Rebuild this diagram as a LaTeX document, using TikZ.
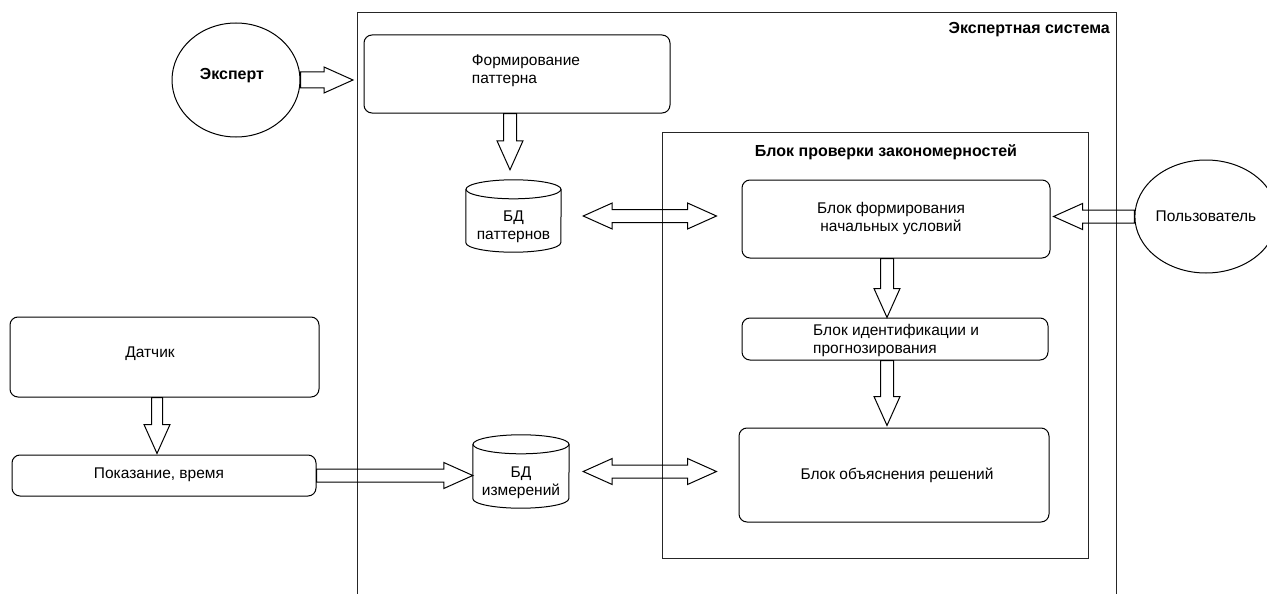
\documentclass[tikz,border=0pt]{standalone}
\usepackage{fontspec}
\setmainfont{Liberation Sans}
\usetikzlibrary{calc,shapes.geometric}
\def\fw{6.5}\def\fh{13}\def\fl{29}
\tikzset{
  base/.style={font=\fontsize{15.5}{18}\selectfont, inner sep=0pt},
  box/.style={base, draw, rounded corners=8pt, line width=1pt},
  oval/.style={base, draw, ellipse, line width=1pt},
  txt/.style={base, align=center},
  ltxt/.style={base, align=left},
  btxt/.style={base, font=\fontsize{16}{19}\selectfont\bfseries},
  frame/.style={line width=1pt, draw=black!85},
  fwd/.code={\def\fw{#1}},
  flex/.style={line width=1pt, line join=miter, to path={
    let \p1=(\tikztostart), \p2=(\tikztotarget),
        \n1={veclen(\x2-\x1,\y2-\y1)},
        \n2={(\x2-\x1)/\n1}, \n3={(\y2-\y1)/\n1}
    in ({\x1-\n3*\fw},{\y1+\n2*\fw})
    -- ({\x2-\n2*\fl-\n3*\fw},{\y2-\n3*\fl+\n2*\fw})
    -- ({\x2-\n2*\fl-\n3*\fh},{\y2-\n3*\fl+\n2*\fh})
    -- (\x2,\y2)
    -- ({\x2-\n2*\fl+\n3*\fh},{\y2-\n3*\fl-\n2*\fh})
    -- ({\x2-\n2*\fl+\n3*\fw},{\y2-\n3*\fl-\n2*\fw})
    -- ({\x1+\n3*\fw},{\y1-\n2*\fw}) -- cycle}},
  flexd/.style={line width=1pt, line join=miter, to path={
    let \p1=(\tikztostart), \p2=(\tikztotarget),
        \n1={veclen(\x2-\x1,\y2-\y1)},
        \n2={(\x2-\x1)/\n1}, \n3={(\y2-\y1)/\n1}
    in ({\x1+\n2*\fl-\n3*\fw},{\y1+\n3*\fl+\n2*\fw})
    -- ({\x2-\n2*\fl-\n3*\fw},{\y2-\n3*\fl+\n2*\fw})
    -- ({\x2-\n2*\fl-\n3*\fh},{\y2-\n3*\fl+\n2*\fh})
    -- (\x2,\y2)
    -- ({\x2-\n2*\fl+\n3*\fh},{\y2-\n3*\fl-\n2*\fh})
    -- ({\x2-\n2*\fl+\n3*\fw},{\y2-\n3*\fl-\n2*\fw})
    -- ({\x1+\n2*\fl+\n3*\fw},{\y1+\n3*\fl-\n2*\fw})
    -- ({\x1+\n2*\fl+\n3*\fh},{\y1+\n3*\fl-\n2*\fh})
    -- (\x1,\y1)
    -- ({\x1+\n2*\fl-\n3*\fh},{\y1+\n3*\fl+\n2*\fh}) -- cycle}}
}
\newcommand\drawcyl[3]{%
  \draw[line width=1pt] ($(#1.north west)+(0,-#3)$) -- ($(#1.south west)+(0,#3)$)
    arc[start angle=180,end angle=360,x radius=#2,y radius=#3]
    -- ($(#1.north east)+(0,-#3)$);
  \draw[line width=1pt] ($(#1.north)+(0,-#3)$) ellipse[x radius=#2,y radius=#3];
}
\begin{document}
\begin{tikzpicture}[x=1pt,y=1pt]
\useasboundingbox (0,0) rectangle (1267,-594);
\fill[white] (0,0) rectangle (1267,-594);

% containers
\draw[frame] (357,-594) -- (357,-13) -- (1116,-13) -- (1116,-594);
\node[btxt, anchor=east] (estitle) at (1110,-30) {Экспертная система};
\draw[frame] (662,-132) rectangle (1088,-558);
\node[btxt] (bptitle) at (886,-152) {Блок проверки закономерностей};

% nodes
\node[oval, minimum width=128, minimum height=114] (expert) at (236,-80) {};
\node[btxt] (expertt) at (232,-76) {Эксперт};
\node[box, minimum width=306, minimum height=78] (form) at (517,-74) {};
\node[ltxt] (formt) at (526,-71) {Формирование\\паттерна};

\node[minimum width=95, minimum height=72, inner sep=0pt] (db1) at (513.5,-216) {};
\drawcyl{db1}{47.5}{9.5}
\node[txt] (db1t) at (513.5,-227) {БД\\паттернов};

\node[box, minimum width=308, minimum height=78] (bf) at (896,-219) {};
\node[txt] (bft) at (891,-218) {Блок формирования\\начальных условий};

\node[box, minimum width=306, minimum height=42] (bi) at (895,-339) {};
\node[ltxt, anchor=west] (bit) at (813,-340) {Блок идентификации и\\прогнозирования};

\node[box, minimum width=310, minimum height=94] (bo) at (894,-475) {};
\node[txt] (bot) at (897,-475) {Блок объяснения решений};

\node[oval, minimum width=118, minimum height=113] (user) at (1206,-216.5) {Пользователь};

\node[box, minimum width=309, minimum height=80] (dat) at (164.5,-357) {};
\node[txt] (datt) at (150,-354) {Датчик};

\node[box, minimum width=304, minimum height=41] (pok) at (164,-475.5) {};
\node[txt] (pokt) at (159,-475) {Показание, время};

\node[minimum width=96, minimum height=73, inner sep=0pt] (db2) at (521,-471.5) {};
\drawcyl{db2}{48}{9.5}
\node[txt] (db2t) at (521,-483) {БД\\измерений};

% connectors
\coordinate (esin) at (353,-80);
\draw[flex, fwd=8] (expert.east) to (esin);
\draw[flex] ([xshift=-7]form.south) to ([xshift=-3.5,yshift=10]db1.north);
\draw[flexd] ([xshift=22]db1.east) to ([xshift=-25]bf.west |- db1.east);
\draw[flex] (user.west) to ([xshift=3]bf.east |- user.west);
\draw[flex] ([xshift=-9]bf.south) to ([xshift=-8]bi.north);
\draw[flex] ([xshift=-8]bi.south) to ([xshift=-7,yshift=2]bo.north);
\draw[flex, fwd=5.5] ([xshift=-7.5]dat.south) to ([xshift=-7,yshift=1]pok.north);
\draw[flex] (pok.east) to (db2.west |- pok.east);
\draw[flexd] ([xshift=14]db2.east) to ([xshift=-22]bo.west |- db2.east);
\end{tikzpicture}
\end{document}
